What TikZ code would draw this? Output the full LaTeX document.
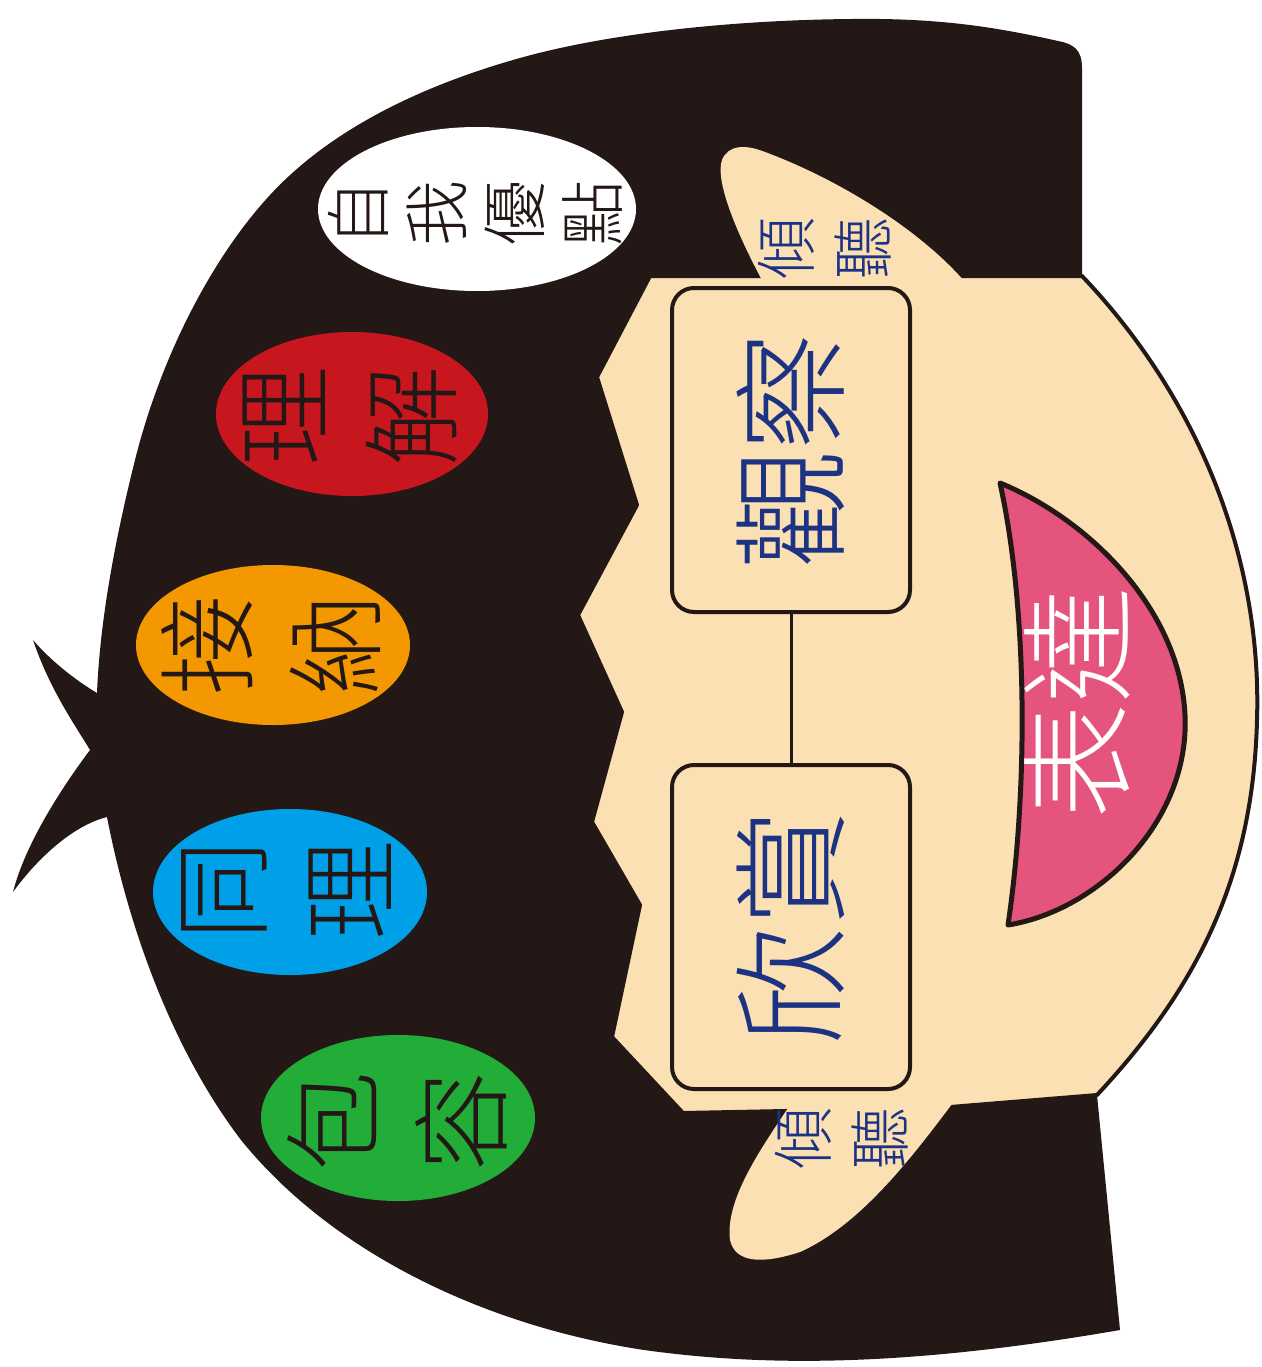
\documentclass[tikz,border=0pt]{standalone}
\usepackage{fontspec}
\usepackage{xcolor}
\newfontfamily\cjk{Noto Sans CJK TC Light}
\definecolor{hairBlack}{RGB}{35,24,21}
\definecolor{skinBeige}{RGB}{250,224,178}
\definecolor{talkNavy}{RGB}{28,50,130}
\definecolor{bubbleRed}{RGB}{200,22,30}
\definecolor{bubbleOrange}{RGB}{243,152,0}
\definecolor{bubbleBlue}{RGB}{0,160,233}
\definecolor{bubbleGreen}{RGB}{34,172,56}
\definecolor{mouthPink}{RGB}{229,84,124}

\begin{document}
\begin{tikzpicture}[x=1pt, y=-1pt,
    bubbletext/.style={rotate=90, align=center, inner sep=0pt, text=hairBlack,
        font=\cjk\fontsize{100}{128}\selectfont},
    wordbox/.style={rectangle, draw=hairBlack, line width=4pt, rounded corners=22pt, fill=skinBeige,
        rotate=90, minimum width=324pt, minimum height=238pt, inner sep=0pt, text=talkNavy,
        font=\cjk\fontsize{118}{118}\selectfont},
    listen/.style={rotate=90, align=center, inner sep=0pt, text=talkNavy,
        font=\cjk\fontsize{62}{77}\selectfont},
    link/.style={draw=hairBlack, line width=3pt}]
    \useasboundingbox (0,0) rectangle (1261,1367);

    % hair, with the two spikes on the left
    \fill[hairBlack] (1082,276) -- (1082,68)
        .. controls (1082,50) and (1074,44) .. (1058,41)
        .. controls (1000,28) and (950,20) .. (880,19)
        .. controls (760,18) and (620,30) .. (520,58)
        .. controls (420,86) and (330,130) .. (270,195)
        .. controls (210,260) and (160,360) .. (135,460)
        .. controls (115,540) and (100,620) .. (97,693)
        .. controls (75,680) and (50,660) .. (33,640)
        .. controls (50,690) and (75,725) .. (90,750)
        .. controls (60,790) and (25,845) .. (13,892)
        .. controls (40,855) and (75,825) .. (107,817)
        .. controls (125,910) and (165,1040) .. (241,1140)
        .. controls (330,1250) and (480,1325) .. (644,1350)
        .. controls (760,1366) and (900,1368) .. (1120,1330)
        -- (1097,1095) -- cycle;

    % face
    \filldraw[fill=skinBeige, draw=hairBlack, line width=4pt, line join=round]
        (650,276) -- (1082,276)
        .. controls (1200,400) and (1262,560) .. (1257,720)
        .. controls (1253,880) and (1195,990) .. (1097,1095)
        -- (938,1108) -- (683,1113) -- (612,1037) -- (640,905) -- (592,822)
        -- (622,712) -- (578,615) -- (637,505) -- (597,377) -- cycle;

    % ears
    \fill[skinBeige] (763,282) .. controls (735,230) and (715,180) .. (722,160)
        .. controls (728,145) and (745,144) .. (765,152)
        .. controls (840,180) and (920,230) .. (965,282) -- cycle;
    \fill[skinBeige] (790,1105) .. controls (760,1150) and (725,1200) .. (730,1240)
        .. controls (735,1262) and (760,1265) .. (800,1252)
        .. controls (860,1225) and (910,1160) .. (955,1100) -- cycle;
    \node[listen] (listenTop) at (825,248) {傾\\聽};
    \node[listen] (listenBottom) at (842,1138) {傾\\聽};

    % bubbles in the hair
    \fill[white] (477,209) ellipse [x radius=159, y radius=82];
    \fill[bubbleRed] (352,414) ellipse [x radius=136, y radius=82];
    \fill[bubbleOrange] (273,645) ellipse [x radius=137, y radius=80];
    \fill[bubbleBlue] (290,892) ellipse [x radius=137, y radius=83];
    \fill[bubbleGreen] (398,1118) ellipse [x radius=137, y radius=83];
    \node[bubbletext, font=\cjk\fontsize{66}{78}\selectfont] (selfgood) at (475,213) {自\\我\\優\\點};
    \node[bubbletext] (understand) at (350,416) {理\\解};
    \node[bubbletext] (accept) at (271,645) {接\\納};
    \node[bubbletext] (empathy) at (286,890) {同\\理};
    \node[bubbletext] (tolerate) at (397,1121) {包\\容};

    % eyes
    \node[wordbox] (observe) at (791,450) {觀察};
    \node[wordbox] (admire) at (791,927) {欣賞};
    \draw[link] (observe) -- (admire);

    % mouth
    \filldraw[fill=mouthPink, draw=hairBlack, line width=5pt, line join=round]
        (1000,483) .. controls (1090,520) and (1180,610) .. (1185,715)
        .. controls (1190,820) and (1100,910) .. (1008,925)
        .. controls (1028,790) and (1028,610) .. (1000,483) -- cycle;
    \node[rotate=90, inner sep=0pt, text=white, font=\cjk\fontsize{116}{116}\selectfont] (express) at (1077,703) {表達};
\end{tikzpicture}
\end{document}
